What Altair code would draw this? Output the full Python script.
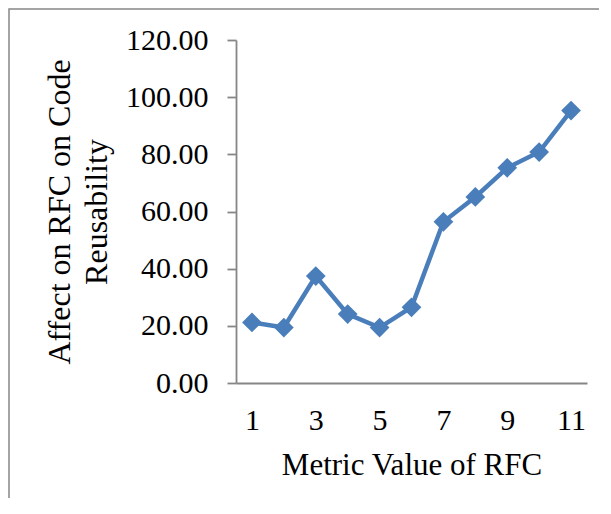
import altair as alt
import pandas as pd

metric_values = [1, 2, 3, 4, 5, 6, 7, 8, 9, 10, 11]
affect_values = [21.2, 19.4, 37.4, 24.1, 19.4, 26.5, 56.4, 65.1, 75.3, 80.8, 95.3]
x_tick_labels = [1, 3, 5, 7, 9, 11]
y_ticks = [0, 20, 40, 60, 80, 100, 120]

df = pd.DataFrame({"metric": metric_values, "affect": affect_values})

FONT = "Times New Roman, Liberation Serif, serif"
BLUE = "#4a7ebb"
GRAY = "#868686"

x_enc = alt.X(
    "metric:O",
    sort=metric_values,
    scale=alt.Scale(type="point", padding=0.5),
    axis=alt.Axis(
        values=x_tick_labels,
        title="Metric Value of RFC",
        labelAngle=0,
        ticks=False,
        tickSize=0,
        labelPadding=22,
        labelFontSize=30,
        labelFont=FONT,
        labelColor="black",
        domainColor=GRAY,
        domainWidth=1.8,
        titleFont=FONT,
        titleFontSize=31,
        titleFontWeight="normal",
        titleColor="black",
        titleBaseline="top",
        titleY=67,
    ),
)
y_enc = alt.Y(
    "affect:Q",
    scale=alt.Scale(domain=[0, 120], nice=False),
    axis=alt.Axis(
        values=y_ticks,
        format=".2f",
        grid=False,
        tickSize=9,
        tickColor=GRAY,
        tickWidth=1.8,
        domainColor=GRAY,
        domainWidth=1.8,
        labelPadding=19,
        labelFontSize=30,
        labelFont=FONT,
        labelColor="black",
        title=["Affect on RFC on Code", "Reusability"],
        titleFont=FONT,
        titleFontSize=32,
        titleFontWeight="normal",
        titleColor="black",
        titleAngle=270,
        titleBaseline="top",
        titleAlign="center",
        titleLineHeight=37,
        titleX=-192,
        titleY=171.5,
    ),
)

base = alt.Chart(df)
line = base.mark_line(color=BLUE, strokeWidth=4.5).encode(x=x_enc, y=y_enc)
points = base.mark_point(shape="diamond", size=390, filled=True, color=BLUE, opacity=1).encode(
    x=x_enc, y=y_enc
)

border = alt.Chart(alt.Data(values=[{"a": 1}])).mark_rect(
    fillOpacity=0, stroke=GRAY, strokeWidth=1.5
).encode(
    x=alt.value(-227), x2=alt.value(600), y=alt.value(-31), y2=alt.value(700)
)

chart = alt.layer(border, line, points).properties(
    width=351,
    height=343,
    padding={"left": 228, "top": 32, "right": 12, "bottom": 115},
    autosize=alt.AutoSizeParams(type="none"),
).configure_view(stroke=None)

chart.save("out.html", embed_options={"renderer": "svg", "actions": False})
